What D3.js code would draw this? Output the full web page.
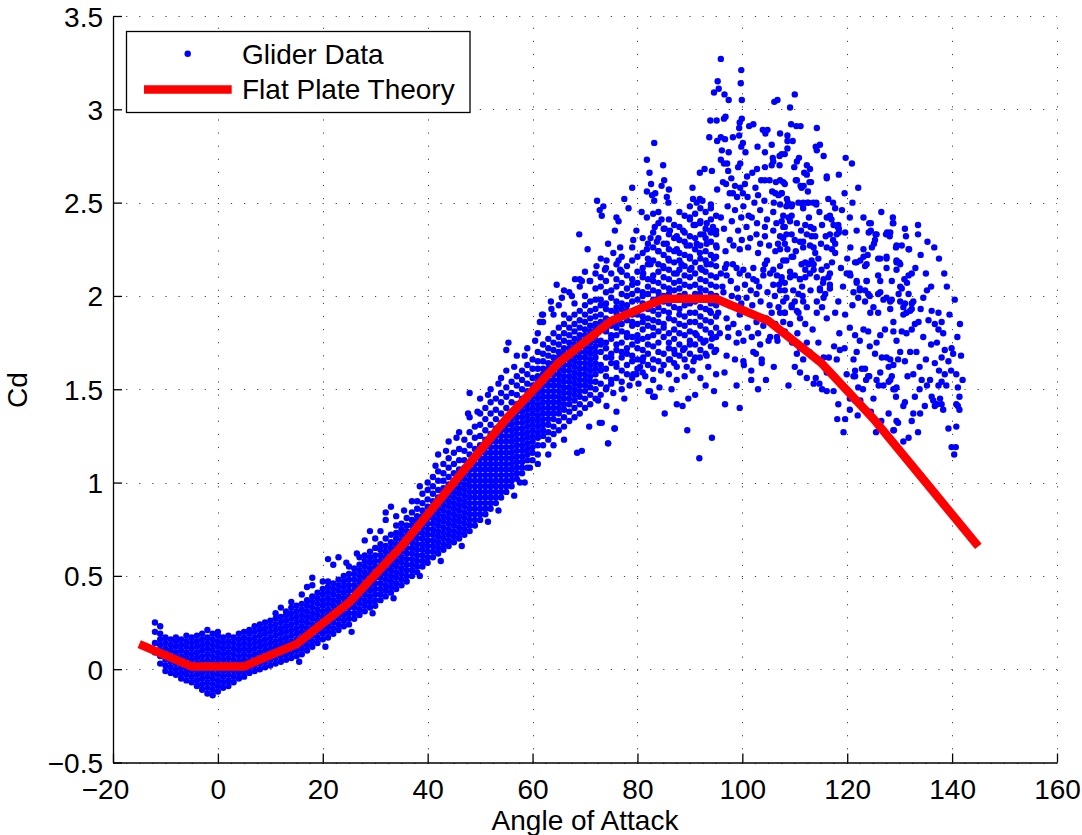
<!DOCTYPE html>
<html><head><meta charset="utf-8">
<script src="https://cdn.jsdelivr.net/npm/d3@7"></script>
<style>
body{margin:0;background:#fff}
svg{display:block}
text{font-family:"Liberation Sans",Arial,Helvetica,sans-serif;fill:#000}
</style></head>
<body><svg id="chart" width="1082" height="835"></svg>
<script>
// ---------- data ----------
const xTicks = [-20,0,20,40,60,80,100,120,140,160];
const xTickLabels = ["\u221220","0","20","40","60","80","100","120","140","160"];
const yTicks = [-0.5,0,0.5,1,1.5,2,2.5,3,3.5];
const yTickLabels = ["\u22120.5","0","0.5","1","1.5","2","2.5","3","3.5"];
const xLabel = "Angle of Attack";
const yLabel = "Cd";
const legendLabels = ["Glider Data","Flat Plate Theory"];

// Flat plate theory curve
const theoryAngle = [-15,-5,5,15,25,35,45,55,65,75,85,95,105,115,125,135,145];
const theoryCd = [0.134,0.015,0.015,0.134,0.357,0.658,1.0,1.342,1.643,1.866,1.985,1.985,1.866,1.643,1.342,1.0,0.658];

// Glider data, dense part: [angle, [Cd values at that angle]]
const coreColumns = [
[-12,[0.09,0.14,0.2,0.25]],
[-11,[0.03,0.07,0.1,0.13,0.16,0.19,0.23]],
[-10,[-0.01,0.02,0.05,0.08,0.11,0.14,0.17]],
[-9,[-0.02,0.01,0.04,0.07,0.1,0.13,0.16]],
[-8,[-0.03,0,0.03,0.06,0.09,0.12,0.15,0.17]],
[-7,[-0.05,-0.02,0.01,0.04,0.07,0.1,0.13,0.16]],
[-6,[-0.06,-0.03,0,0.03,0.06,0.09,0.12,0.15,0.18]],
[-5,[-0.07,-0.04,-0.01,0.02,0.05,0.08,0.11,0.14,0.17]],
[-4,[-0.09,-0.06,-0.03,0,0.03,0.06,0.09,0.12,0.15,0.18]],
[-3,[-0.11,-0.08,-0.05,-0.02,0.01,0.04,0.07,0.1,0.13,0.16,0.19]],
[-2,[-0.13,-0.1,-0.07,-0.04,-0.01,0.02,0.05,0.08,0.11,0.14,0.17,0.21]],
[-1,[-0.14,-0.11,-0.08,-0.05,-0.02,0.01,0.04,0.07,0.1,0.13,0.16,0.19]],
[0,[-0.12,-0.09,-0.06,-0.03,0,0.03,0.06,0.09,0.12,0.15,0.18,0.2]],
[1,[-0.1,-0.07,-0.04,-0.01,0.02,0.05,0.08,0.11,0.14,0.17]],
[2,[-0.09,-0.06,-0.03,0,0.03,0.06,0.09,0.12,0.15,0.18]],
[3,[-0.07,-0.04,-0.01,0.02,0.05,0.08,0.11,0.14,0.17]],
[4,[-0.05,-0.02,0.01,0.04,0.07,0.1,0.13,0.16,0.19]],
[5,[-0.04,-0.01,0.02,0.05,0.08,0.11,0.14,0.17,0.2]],
[6,[-0.02,0.01,0.04,0.07,0.1,0.13,0.16,0.19,0.21]],
[7,[-0.01,0.02,0.05,0.08,0.11,0.14,0.17,0.2,0.23]],
[8,[0,0.03,0.06,0.09,0.12,0.15,0.18,0.21,0.24]],
[9,[0.01,0.04,0.07,0.1,0.13,0.16,0.19,0.22,0.25]],
[10,[0.02,0.05,0.08,0.11,0.14,0.17,0.2,0.23,0.26]],
[11,[0.03,0.06,0.09,0.12,0.15,0.18,0.21,0.24,0.27,0.3]],
[12,[0.04,0.07,0.1,0.13,0.16,0.19,0.22,0.25,0.28,0.33]],
[13,[0.05,0.08,0.11,0.14,0.17,0.2,0.23,0.26,0.29,0.31]],
[14,[0.06,0.09,0.12,0.15,0.18,0.21,0.24,0.27,0.3,0.33,0.36]],
[15,[0.07,0.1,0.13,0.16,0.19,0.22,0.25,0.28,0.31,0.34]],
[16,[0.08,0.11,0.14,0.17,0.2,0.23,0.26,0.29,0.32,0.35,0.4]],
[17,[0.1,0.13,0.16,0.19,0.22,0.25,0.28,0.31,0.34,0.37,0.44]],
[18,[0.12,0.15,0.18,0.21,0.24,0.27,0.3,0.33,0.36,0.39,0.45,0.49]],
[19,[0.14,0.17,0.2,0.23,0.26,0.29,0.32,0.35,0.38,0.41]],
[20,[0.16,0.19,0.22,0.25,0.28,0.31,0.34,0.37,0.4,0.43,0.47]],
[21,[0.17,0.2,0.23,0.26,0.29,0.32,0.35,0.38,0.41,0.44,0.47,0.59]],
[22,[0.19,0.22,0.25,0.28,0.31,0.34,0.37,0.4,0.43,0.46,0.56]],
[23,[0.21,0.24,0.27,0.3,0.33,0.36,0.39,0.42,0.45,0.48,0.6]],
[24,[0.23,0.26,0.29,0.32,0.35,0.38,0.41,0.44,0.47,0.5]],
[25,[0.24,0.27,0.3,0.33,0.36,0.39,0.42,0.45,0.48,0.51,0.55]],
[26,[0.27,0.3,0.33,0.36,0.39,0.42,0.45,0.48,0.51,0.54]],
[27,[0.29,0.32,0.35,0.38,0.41,0.44,0.47,0.5,0.53,0.56,0.6]],
[28,[0.31,0.34,0.37,0.4,0.43,0.46,0.49,0.52,0.55,0.58,0.61,0.69]],
[29,[0.33,0.36,0.39,0.42,0.45,0.48,0.51,0.54,0.57,0.6,0.63,0.74]],
[30,[0.34,0.37,0.4,0.43,0.46,0.49,0.52,0.55,0.58,0.61,0.65,0.7]],
[31,[0.37,0.4,0.43,0.46,0.49,0.52,0.55,0.58,0.61,0.64,0.67]],
[32,[0.39,0.42,0.45,0.48,0.51,0.54,0.57,0.6,0.63,0.66,0.7,0.8,0.84]],
[33,[0.41,0.44,0.47,0.5,0.53,0.56,0.59,0.62,0.65,0.68,0.72,0.87]],
[34,[0.43,0.46,0.49,0.52,0.55,0.58,0.61,0.64,0.67,0.7,0.73,0.77,0.82]],
[35,[0.45,0.48,0.51,0.54,0.57,0.6,0.63,0.66,0.69,0.72,0.75,0.78]],
[36,[0.47,0.5,0.53,0.56,0.59,0.62,0.65,0.68,0.71,0.74,0.77,0.81]],
[37,[0.5,0.53,0.56,0.59,0.62,0.65,0.68,0.71,0.74,0.77,0.8,0.84,0.9]],
[38,[0.52,0.55,0.58,0.61,0.64,0.67,0.7,0.73,0.76,0.79,0.82,0.86,0.9]],
[39,[0.55,0.58,0.61,0.64,0.67,0.7,0.73,0.76,0.79,0.82,0.85,0.89,0.94]],
[40,[0.57,0.6,0.63,0.66,0.69,0.72,0.75,0.78,0.81,0.84,0.87,0.91,0.96,1.0]],
[41,[0.6,0.63,0.66,0.69,0.72,0.75,0.78,0.81,0.84,0.87,0.9,0.94,0.98,1.03]],
[42,[0.62,0.65,0.68,0.71,0.74,0.77,0.8,0.83,0.86,0.89,0.92,0.96,1.01,1.06,1.15]],
[43,[0.64,0.67,0.7,0.73,0.76,0.79,0.82,0.85,0.88,0.91,0.94,0.97,1.01,1.05,1.1]],
[44,[0.66,0.69,0.72,0.75,0.78,0.81,0.84,0.87,0.9,0.93,0.96,0.99,1.03,1.08,1.13,1.22]],
[45,[0.68,0.71,0.74,0.77,0.8,0.83,0.86,0.89,0.92,0.95,0.98,1.01,1.05,1.1,1.16]],
[46,[0.7,0.73,0.76,0.79,0.82,0.85,0.88,0.91,0.94,0.97,1.0,1.03,1.07,1.12,1.18,1.27]],
[47,[0.72,0.75,0.78,0.81,0.84,0.87,0.9,0.93,0.96,0.99,1.02,1.05,1.08,1.12,1.17,1.23]],
[48,[0.74,0.77,0.8,0.83,0.86,0.89,0.92,0.95,0.98,1.01,1.04,1.07,1.1,1.15,1.2,1.27,1.35]],
[49,[0.77,0.8,0.83,0.86,0.89,0.92,0.95,0.98,1.01,1.04,1.07,1.1,1.13,1.18,1.24,1.3]],
[50,[0.8,0.83,0.86,0.89,0.92,0.95,0.98,1.01,1.04,1.07,1.1,1.13,1.16,1.2,1.25,1.31,1.37,1.45]],
[51,[0.83,0.86,0.89,0.92,0.95,0.98,1.01,1.04,1.07,1.1,1.13,1.16,1.19,1.23,1.28,1.34,1.4]],
[52,[0.86,0.89,0.92,0.95,0.98,1.01,1.04,1.07,1.1,1.13,1.16,1.19,1.22,1.26,1.31,1.37,1.43,1.5]],
[53,[0.89,0.92,0.95,0.98,1.01,1.04,1.07,1.1,1.13,1.16,1.19,1.22,1.25,1.29,1.34,1.39,1.45]],
[54,[0.92,0.95,0.98,1.01,1.04,1.07,1.1,1.13,1.16,1.19,1.22,1.25,1.28,1.32,1.37,1.43,1.48,1.56]],
[55,[0.95,0.98,1.01,1.04,1.07,1.1,1.13,1.16,1.19,1.22,1.25,1.28,1.31,1.35,1.4,1.46,1.51,1.6]],
[56,[0.98,1.01,1.04,1.07,1.1,1.13,1.16,1.19,1.22,1.25,1.28,1.31,1.34,1.38,1.43,1.48,1.54]],
[57,[1.02,1.05,1.08,1.11,1.14,1.17,1.2,1.23,1.26,1.29,1.32,1.35,1.38,1.42,1.47,1.52,1.57,1.68]],
[58,[1.05,1.08,1.11,1.14,1.17,1.2,1.23,1.26,1.29,1.32,1.35,1.38,1.41,1.45,1.5,1.55,1.6]],
[59,[1.08,1.12,1.15,1.18,1.21,1.24,1.27,1.3,1.33,1.36,1.39,1.42,1.45,1.49,1.53,1.58,1.63,1.72]],
[60,[1.12,1.16,1.19,1.22,1.25,1.28,1.31,1.34,1.37,1.4,1.43,1.46,1.49,1.52,1.56,1.61,1.66]],
[61,[1.15,1.2,1.24,1.27,1.3,1.33,1.36,1.39,1.42,1.45,1.48,1.51,1.54,1.57,1.61,1.65,1.7,1.8]],
[62,[1.2,1.25,1.28,1.31,1.34,1.37,1.4,1.43,1.46,1.49,1.52,1.55,1.58,1.61,1.65,1.69,1.74,1.86]],
[63,[1.23,1.27,1.31,1.34,1.37,1.4,1.43,1.46,1.49,1.52,1.55,1.58,1.61,1.64,1.68,1.72,1.77]],
[64,[1.26,1.3,1.34,1.37,1.4,1.43,1.46,1.49,1.52,1.55,1.58,1.61,1.64,1.67,1.71,1.75,1.8,1.9]],
[65,[1.28,1.33,1.37,1.4,1.43,1.46,1.49,1.52,1.55,1.58,1.61,1.64,1.67,1.7,1.74,1.78,1.83,1.95]],
[66,[1.3,1.35,1.39,1.42,1.45,1.48,1.51,1.54,1.57,1.6,1.63,1.66,1.69,1.72,1.76,1.8,1.85,1.9]],
[67,[1.33,1.38,1.42,1.45,1.48,1.51,1.54,1.57,1.6,1.63,1.66,1.69,1.72,1.75,1.79,1.83,1.88,2.02]],
[68,[1.35,1.4,1.44,1.47,1.5,1.53,1.56,1.59,1.62,1.65,1.68,1.71,1.74,1.77,1.81,1.85,1.9,1.96]],
[69,[1.37,1.42,1.46,1.49,1.52,1.55,1.58,1.61,1.64,1.67,1.7,1.73,1.76,1.79,1.83,1.87,1.92,2.05]],
[70,[1.4,1.45,1.49,1.52,1.55,1.58,1.61,1.64,1.67,1.7,1.73,1.76,1.79,1.82,1.86,1.9,1.95,2.0]],
[71,[1.42,1.47,1.51,1.54,1.57,1.6,1.63,1.66,1.69,1.72,1.75,1.78,1.81,1.84,1.88,1.92,1.97,2.08]],
[72,[1.45,1.5,1.54,1.58,1.61,1.64,1.67,1.7,1.73,1.76,1.79,1.82,1.85,1.89,1.93,1.98,2.04]],
[73,[1.47,1.53,1.6,1.63,1.7,1.74,1.76,1.83,1.86,1.9,1.95,1.98,2.05,2.1]],
[74,[1.5,1.57,1.61,1.67,1.72,1.75,1.81,1.82,1.88,1.93,1.96,2.02,2.08,2.15]],
[75,[1.53,1.55,1.64,1.67,1.69,1.77,1.79,1.84,1.87,1.92,1.99,2.03,2.12]],
[76,[1.56,1.62,1.64,1.71,1.74,1.79,1.83,1.86,1.91,1.94,1.97,2.05,2.09,2.17]],
[77,[1.54,1.6,1.67,1.7,1.75,1.81,1.85,1.89,1.93,1.96,2.01,2.07,2.13,2.21]],
[78,[1.58,1.63,1.69,1.72,1.78,1.8,1.87,1.92,1.95,2.0,2.04,2.11,2.16]],
[79,[1.56,1.65,1.68,1.74,1.78,1.84,1.86,1.9,1.97,2.01,2.06,2.09,2.19,2.26]],
[80,[1.61,1.66,1.72,1.76,1.79,1.85,1.9,1.93,1.98,2.03,2.07,2.13,2.21]],
[81,[1.59,1.65,1.71,1.77,1.82,1.86,1.89,1.96,2.0,2.02,2.1,2.15,2.23,2.31]],
[82,[1.63,1.69,1.74,1.78,1.84,1.88,1.93,1.95,2.01,2.05,2.09,2.17,2.2,2.28]],
[83,[1.61,1.66,1.73,1.79,1.83,1.87,1.92,1.98,2.03,2.08,2.11,2.19,2.26,2.34]],
[84,[1.65,1.7,1.75,1.81,1.86,1.9,1.94,1.99,2.02,2.07,2.13,2.17,2.24,2.31,2.39]],
[85,[1.63,1.69,1.78,1.83,1.85,1.92,1.97,2.0,2.05,2.1,2.15,2.22,2.28,2.36]],
[86,[1.66,1.72,1.75,1.8,1.88,1.91,1.96,2.01,2.04,2.09,2.14,2.19,2.25,2.33,2.41]],
[87,[1.64,1.71,1.77,1.82,1.87,1.94,1.98,2.03,2.07,2.12,2.18,2.24,2.31,2.38]],
[88,[1.68,1.74,1.8,1.85,1.9,1.93,2.0,2.04,2.08,2.14,2.19,2.23,2.3,2.37,2.45]],
[89,[1.66,1.72,1.79,1.84,1.89,1.95,2.01,2.06,2.11,2.16,2.22,2.29,2.34,2.43]],
[90,[1.69,1.76,1.81,1.86,1.91,1.96,1.99,2.05,2.1,2.14,2.2,2.27,2.32,2.41,2.48]],
[91,[1.67,1.74,1.8,1.86,1.91,1.97,2.01,2.06,2.12,2.18,2.25,2.31,2.38,2.44]],
[92,[1.71,1.77,1.84,1.89,1.94,1.99,2.04,2.09,2.15,2.2,2.27,2.33,2.4,2.47]],
[93,[1.69,1.76,1.82,1.87,1.93,1.98,2.03,2.08,2.13,2.19,2.24,2.31,2.36,2.45]],
[94,[1.73,1.8,1.86,1.91,1.96,2.01,2.06,2.11,2.17,2.22,2.29,2.34,2.41,2.49]],
[95,[1.71,1.78,1.83,1.89,1.95,2.0,2.05,2.1,2.16,2.21,2.27,2.35,2.43]]
];

// Glider data, scattered part: [angle, Cd]
const scatterPoints = [
[95.9,3.27],[99.8,3.21],[99.7,3.14],[95.3,3.15],[95.5,3.11],[94.6,3.09],[96.6,3.08],[97.4,3.05],[99.9,3.05],[106.1,3.04],[106.7,3.05],[110,3.08],[109.1,3.01],
[93.9,2.94],[95.1,2.94],[96.5,2.95],[96.8,2.96],[99.5,2.93],[99.9,2.95],[99.4,2.9],[101.3,2.91],[102.1,2.92],[103.9,2.89],[104.8,2.89],[104.4,2.87],[109.3,2.92],[110.3,2.91],[111.1,2.91],[107.2,2.87],[108.6,2.86],[109.6,2.83],[108.6,2.83],[114.2,2.9],
[93.7,2.85],[95.2,2.83],[95.9,2.85],[96.7,2.84],[98.2,2.85],[83.2,2.82],[99.4,2.86],[100.1,2.82],[99.8,2.8],[102.9,2.8],[104.3,2.77],[105.6,2.81],[105.8,2.74],[105.9,2.72],[96.1,2.78],[97.4,2.77],[100.6,2.77],[107.1,2.75],[107.5,2.76],[108.1,2.76],[108.6,2.79],[110.8,2.74],[110.4,2.72],[114,2.8],[114.8,2.81],[114.2,2.78],[115.5,2.75],[119.7,2.74],[120.9,2.71],
[81.8,2.73],[82.3,2.66],[84.9,2.7],[95.9,2.73],[96.5,2.71],[97.1,2.71],[97.3,2.67],[99.2,2.69],[99.6,2.71],[91.9,2.66],[92.8,2.68],[94.2,2.67],[102.8,2.68],[104.3,2.69],[105.6,2.7],[107.1,2.7],[109.9,2.69],[101.9,2.66],[103.6,2.62],[104.3,2.62],[105.2,2.62],[106.4,2.61],[107.8,2.61],[112.3,2.7],[111.8,2.66],[110.2,2.62],[111.1,2.59],[112.8,2.61],[116.1,2.64],[118.4,2.65],[122.1,2.58],
[82.6,2.6],[84.6,2.59],[85.1,2.62],[86,2.57],[85.6,2.53],[81.8,2.56],[82.8,2.54],[83.2,2.51],[83.4,2.55],[85.9,2.5],[90.5,2.58],[90.6,2.52],[91.9,2.52],[91.3,2.5],[92.4,2.51],[96.3,2.61],[96.9,2.6],[97.6,2.55],[98.2,2.55],[98.6,2.59],[99.6,2.58],[100.5,2.6],[100.1,2.55],[99,2.53],[103,2.54],[105.7,2.56],[106.3,2.55],[106.9,2.54],[107.5,2.55],[108.5,2.52],[108.7,2.5],[109.5,2.49],[110.7,2.5],[111.5,2.49],[112.4,2.5],[114.1,2.5],[116.4,2.52],[117.3,2.5],[117.7,2.47],[116.7,2.43],[117,2.41],[118.4,2.36],[118,2.33],[118.3,2.38],[123.1,2.42],[124.2,2.39],[124.5,2.35],[125.4,2.33],[125.1,2.28],[127.6,2.34],[128.1,2.32],[128.7,2.39],[131.2,2.32],[131.7,2.25],[129.3,2.26],
[112.9,2.68],[112.3,2.65],[113.1,2.61],[116.1,2.63],[110.4,2.62],[111.3,2.58],[111.7,2.59],[112.5,2.56],[107.2,2.62],[108.1,2.6],[107.5,2.55],[107.2,2.49],[108.4,2.48],[109.4,2.48],[111.6,2.5],[112.6,2.5],[113.5,2.5],[114.1,2.49],[111.6,2.47],
[109.4,2.43],[107.8,2.43],[109.1,2.4],[107.8,2.37],[108.4,2.33],[107.2,2.32],[108.1,2.28],[107.2,2.25],
[112,2.38],[113,2.37],[113.6,2.36],[112.3,2.33],[113.2,2.32],[113.9,2.32],[111.6,2.29],[112.9,2.27],[113.6,2.26],[111.6,2.26],[113.9,2.23],[113.2,2.19],[112.6,2.17],[113.6,2.17],[112,2.18],[113.6,2.14],[112.9,2.12],[112,2.14],[114.2,2.1],
[116.1,2.42],[117.4,2.38],[118.2,2.37],[118.4,2.34],[116.7,2.33],[117.3,2.3],[117.7,2.28],[115.9,2.32],[116.1,2.26],[117.1,2.25],[117.7,2.23],[117.1,2.18],[116.1,2.16],[115.1,2.14],[116.7,2.12],[115.4,2.07],[116.7,2.06],[114.8,2.04],[115.8,2.01],
[119.6,2.34],[120.6,2.26],[121.5,2.18],[122.5,2.19],[123.1,2.25],[123.9,2.22],[123.7,2.17],[124.7,2.26],[124.1,2.34],[124.5,2.39],[125.6,2.33],[125.3,2.3],[126.3,2.2],[127.5,2.21],[127.5,2.15],[128.8,2.39],[128.2,2.34],[127.4,2.33],[129.4,2.27],[130.4,2.27],[131.8,2.25],[129.9,2.18],[129.4,2.19],[129.4,2.14],
[119.9,2.12],[120.6,2.11],[121.8,2.08],[122.4,2.03],[122.1,1.99],[123.7,2.08],[124,2.01],[123.4,1.97],[125,1.94],[124.4,1.91],[125.9,1.91],[126.3,2.02],[126.3,2.08],[127.5,1.99],[128.5,1.98],[128.2,1.93],[129.8,2.01],[130.4,2.04],[130.9,2.09],[131.7,2.11],[132.3,2.12],[131.4,2.07],[130.1,1.97],[130.7,1.94],[132,1.92],[132.3,1.96],[134.5,1.99],[135.2,2.03],[136.1,1.92],[137.4,1.91],
[108.4,2.19],[109.4,2.21],[107.2,2.16],[109.1,2.1],[110,2.11],[108.1,2.07],[107.2,2.03],[109.7,2.03],[111,2.09],[112,2.1],[111.4,2.05],[110.7,2.01],[108.4,1.99],[110,1.97],[111.6,1.97],[109.4,1.94],[110.7,1.91],[108.1,1.91],[112.3,1.94],[107.2,1.91],[115.5,2.09],[114.8,2.03],[115.5,1.99],[114.2,1.97],[115.2,1.94],[114.2,1.91],[116.1,1.88],[117.7,1.91],[116.7,2.04],[116.4,2.1],
[123.1,2.21],[125.9,2.2],[127.5,2.2],[129.4,2.18],[130.1,2.17],[121.8,2.18],[123.4,2.16],[120.5,2.12],[121.8,2.07],[123.7,2.08],[125.9,2.11],[128.5,2.08],[121.2,2.02],[122.4,2.04],[123.4,2.03],[124.3,2],[125.9,2.01],[126.9,1.98],[128.2,1.97],[130.1,2.05],[131.7,2.01],[131,1.96],[132.3,1.93],[132.6,1.97],[136.7,1.85],[138,1.86],[137.4,1.82],[138.3,1.8],[137.1,1.75],[138.6,1.71],[139.9,1.72],[140.2,1.69],[138,1.67],[139.3,1.65],[136.7,1.64],
[120.5,1.83],[121.5,1.79],[123.1,1.82],[124,1.81],[122.4,1.76],[124.3,1.73],[125.6,1.75],[121.8,1.7],[125.3,1.69],[126.6,1.67],[127.5,1.67],[128.2,1.66],[128.8,1.63],[129.7,1.66],[131,1.65],[130.1,1.7],[132,1.7],[132.9,1.85],[133.6,1.86],[132.3,1.82],[131.3,1.8],[129.4,1.76],[128.8,1.81],[130.4,1.81],[128.8,1.86],[130.7,1.9],[131.3,1.91],[127.2,1.82],[126.3,1.79],[123.4,1.61],[121.5,1.6],[121.2,1.57],[124,1.57],[126.3,1.59],[127.9,1.62],[128.5,1.57],[127.9,1.54],[129.4,1.51],[129.1,1.5],[131,1.43],[130.7,1.41],[127.9,1.37],[129.4,1.33],[129.7,1.32],[128.8,1.28],[130.7,1.22],[131.7,1.24],[132.6,1.37],[132.3,1.33],[133.9,1.37],[132.9,1.46],[134.2,1.55],[135.8,1.55],[135.2,1.52],[133.8,1.5],[132.6,1.58],[136.1,1.46],[136.4,1.44],[137.1,1.42],[137.7,1.45],[138,1.42],[138.3,1.39],[136.7,1.41],[134.8,1.41],[137.4,1.52],[138,1.54],[138.6,1.58],[138.9,1.52],[140.8,1.58],[141.1,1.51],[141.4,1.46],[141.1,1.41],[141.4,1.39],[140.8,1.42],[139.3,1.29],[140.8,1.3],[139.9,1.19],[140.7,1.19],[140.4,1.15],[120.5,1.45],[120.5,1.39],[121.5,1.44],
[74.1,1.41],[75.7,1.29],[74.4,1.21],[73.2,1.32],[75.4,1.48],[74.1,1.51],[77,1.5],[79.2,1.58],[80.2,1.53],[82.4,1.49],[83.3,1.46],[84.2,1.51],[85.2,1.37],[87.5,1.42],[88.6,1.41],[89.7,1.45],[89.5,1.28],[91.8,1.13],[94.2,1.24],[94.6,1.49],[96.7,1.42],[96.6,1.59],[98.9,1.52],[100.3,1.63],[101.7,1.6],[101.7,1.55],[103.7,1.64],[102.6,1.69],[105.3,1.78],[106.7,1.76],[110.4,1.69],[111,1.72],[112.3,1.75],[111.6,1.66],[114,1.56],[114.7,1.53],[116.1,1.59],[115.5,1.67],[116.5,1.67],[118,1.66],[118.6,1.71],[121.2,1.66],[119.9,1.58],[121.5,1.57],[122.8,1.61],[122.1,1.51],[123.6,1.55],[124.2,1.57],[125.6,1.55],[126.9,1.52],[128.2,1.55],[128.8,1.5],[129.3,1.46],[128.9,1.28],[119.6,1.34],[119.3,1.27],[118.1,1.34],[118.3,1.42],[117.4,1.49],[116.1,1.49],[115.2,1.5],[113.6,1.53],[112.3,1.56],[111,1.59],[110,1.62],
[96.7,2.15],[98.2,2.17],[98.9,2.15],[97,2.11],[99.5,2.12],[101.1,2.11],[102.1,2.09],[102.7,2.08],[104,2.14],[104.3,2.17],[105.3,2.12],[106.6,2.11],[107.5,2.08],[105.9,2.06],[108.1,2.03],[102.7,2.01],[100.8,1.99],[99.2,1.99],[98,2.0],[96.4,2.02],[94.7,1.99],[93.2,1.98],[91.9,2.01],[93.8,1.92],[95.4,1.91],[97,1.88],[98.3,1.85],[99.5,1.9],[101.1,1.91],[102.7,1.86],[104,1.84],[105.6,1.91],[106.9,1.94],[108.1,1.91],[109.4,1.95],[110.4,1.92],[111,1.88],[109.1,1.85],[108.1,1.81],[106.6,1.78],[105,1.76],[103.4,1.74],[101.8,1.78],[100.2,1.76],[98.9,1.75],[97.3,1.78],[95.7,1.8],[94.2,1.77],[92.6,1.75],[91.3,1.79],[90,1.74],[88.7,1.71],[87.1,1.69],[86.2,1.66],[87.5,1.62],[89.4,1.62],[90.7,1.65],[91.9,1.67],[93.2,1.68],[94.7,1.7],[97,1.68],[98.6,1.66],[100.2,1.65],[102.1,1.7],[103.7,1.66],
[98.6,2.46],[100.2,2.48],[101.8,2.42],[103.4,2.46],[104.7,2.41],[105.9,2.45],[107.5,2.4],[108.8,2.42],[110.4,2.39],[99.2,2.35],[100.8,2.37],[102.7,2.33],[104.3,2.32],[105.9,2.35],[107.8,2.31],[109.4,2.33],[111,2.29],[99.5,2.25],[101.1,2.26],[103,2.23],[104.7,2.19],[106.3,2.24],[107.8,2.19],[109.7,2.21],[111.3,2.17],[100.2,2.14],[102.1,2.15],[104,2.11],[105.9,2.14],[107.5,2.1],[109.1,2.13],[111,2.09],[97.6,2.3],[97,2.17],[95.9,2.42],[95.1,2.26],[93.9,2.35],[93.2,2.17],
[96.2,2.05],[97.8,2.08],[99,2.04],[100.5,2.06],[101.6,2.03],[103.2,2.05],[104.8,2.02],[106.2,2.0],[107,2.06],[97.5,1.95],[99.8,1.96],[101.9,1.95],[103.5,1.97],[105.2,1.95],[107.8,1.97],[96.8,2.24],[98.3,2.27],[99.9,2.3],[101.5,2.31],[103.4,2.28],[105.1,2.27],[106.8,2.28],[108.6,2.25],[110.2,2.24],[96.5,2.36],[98,2.4],[101.2,2.43],[102.8,2.39],[104.3,2.37],[106.5,2.39],[108.1,2.37],[97.2,2.48],[99.8,2.42],[102.3,2.5],[104.2,2.51],[106,2.5],[101,2.53],[97.9,2.63],[100.9,2.64],[102.5,2.58],[95.2,2.57],[94,2.47],[95,2.33],[94.6,2.2],[95.9,2.12],[97.3,1.83],[99.3,1.8],[101,1.83],[103,1.8],[104.6,1.88],[106.3,1.85],[107.8,1.86],[110.5,1.8],[112,1.85],[113.4,1.82],[112.8,1.7],[114.5,1.75],[109.5,1.75],[111.5,2.0],[113,2.03],[110,2.3],[111.2,2.35],[112.7,2.42],[114.7,2.45],[115.2,2.38],[115,2.28],[114.5,2.2],[119,2.46],[119.5,2.55],[120.5,2.42],[121.8,2.35],[120,2.2],[118.8,2.15],[119.2,2.05],[118.3,1.97],[119.6,1.9],[121,1.95],[118.5,1.8],[117.5,1.73],[119.5,1.72],
[73.5,2.48],[73.2,2.43],[76,2.42],[76.4,2.4],[75.7,2.35],[74.4,2.28],[76.7,2.26],[75.4,2.23],[74.1,2.19],[76.4,2.19],[73.8,2.14],[76.7,2.14],[79.2,2.3],[79.8,2.35],[80.8,2.45],[81.8,2.42],[83,2.44],[84,2.45],[84.6,2.41],[83.3,2.37],[85.2,2.36],[86.2,2.35],[82.5,2.31],[83.7,2.29],[85.6,2.28],[81.8,2.25],[84,2.24],[85.9,2.2],[82.5,2.17],[84.9,2.16],[81.1,2.12],[87.5,2.32],[88.7,2.35],[90,2.42],[90.7,2.38],[91.9,2.39],[93.2,2.39],[94.4,2.37],[92.6,2.33],[91.3,2.28],[89.4,2.27],[87.5,2.25],[90,2.21],[91.9,2.23],[93.2,2.28],[88.4,2.17],[90.3,2.15],[92.3,2.14],[87.5,2.12],
[133.5,2.33],[135.3,2.29],[136.6,2.26],[134,2.22],[137.5,2.2],[131,2.36],[133.5,2.38],[128.7,2.42],[126.5,2.45],[121,2.5],[139,2.05],[140.5,1.98],[138.5,2.12],[141.5,1.85],[141,1.78],[139.5,1.9],[133,2.15],[135,2.12],[136,2.05],[134,1.93],[135.5,1.87],[134.5,1.78],[136,1.74],[133.2,1.7],[135,1.66],[137.5,1.6],[139.8,1.6],[142,1.55],[141.7,1.68],[133.8,1.62],[131.5,1.57],[126,1.52],[125,1.45],[123,1.5],[122.5,1.44],[124.5,1.38],[126.5,1.33],[125.5,1.27],[122,1.36],[133.5,1.27],
[104.5,1.55],[106,1.62],[108.8,1.52],[103,1.5],[99.5,1.4],
[80.5,1.62],[81.5,1.57],[83,1.55],[84.5,1.6],[86,1.58],[87.5,1.55],[89,1.57],[90.5,1.6],[92,1.56],[93.5,1.62],[95,1.58],[77.5,1.45],[78.5,1.52],[76,1.38],[86.5,1.5],[91,1.47],[93,1.52],
[61.8,1.9],[63.5,1.97],[66,2.03],[67.5,2.0],[69,2.09],[70,2.13],[72,2.12],[72.3,2.51],[72.8,2.46],[68.9,2.33],[70.5,2.25],[73,2.2],[77.5,2.52],[79,2.58],[78.3,2.47],[57.6,1.0],[59.5,1.08],[61,1.1],[68.5,1.16],[69.4,1.17],[72.8,1.32],[74.4,1.21],[75.6,1.29],[64,1.2],[66,1.23],[70.8,1.3],[63,1.15],
[48,1.48],[47.7,1.37],[55.4,1.75],[55,1.71],[61.4,1.86],[62,1.9],[64.6,2.06],[68.1,2.09],[69.4,2.08],[70.9,2.08],[72.2,2.16],[65.6,1.99],[63.6,1.93],
[82.1,1.49],[83,1.46],[72.5,1.44],[79.8,1.58],[81.1,1.67],
[24.5,0.57],[26.5,0.62],[31,0.74],[35.5,0.85],[38.5,0.98],[41.5,1.09],[43.5,1.17],[45.5,1.24],[49.5,1.38],[51.5,1.47],[53.5,1.53],[56.5,1.62],[58.5,1.68],[60.5,1.76],
[38.5,0.5],[42.5,0.58],[46.5,0.66],[51.5,0.79],[53.5,0.85],[56.5,0.93],[58.5,1.0],[29.5,0.3],[33.5,0.38],[25.5,0.2],[20.5,0.12],[15.5,0.04]
];

// ---------- layout ----------
const plot = {left:113, right:1057, top:16, bottom:762.5};
const FONT = 28;

const svg = d3.select("#chart");
const x = d3.scaleLinear().domain([-20,160]).range([plot.left, plot.right]);
const y = d3.scaleLinear().domain([-0.5,3.5]).range([plot.bottom, plot.top]);

// grid (dotted)
const grid = svg.append("g").attr("stroke","#444").attr("stroke-width",1).attr("stroke-dasharray","1.2,11.9");
grid.selectAll("line.v").data(xTicks).join("line").attr("class","v")
  .attr("x1",d=>Math.round(x(d))+0.5).attr("x2",d=>Math.round(x(d))+0.5)
  .attr("y1",plot.bottom).attr("y2",plot.top);
grid.selectAll("line.h").data(yTicks).join("line").attr("class","h")
  .attr("x1",plot.left).attr("x2",plot.right)
  .attr("y1",d=>Math.round(y(d))+0.5).attr("y2",d=>Math.round(y(d))+0.5);

// scatter points
const points = [];
coreColumns.forEach(([a, cds]) => cds.forEach(c => points.push([a, c])));
scatterPoints.forEach(p => points.push(p));
svg.append("g").attr("fill","#0000ff")
  .selectAll("circle").data(points).join("circle")
  .attr("cx",d=>x(d[0])).attr("cy",d=>y(d[1])).attr("r",3.2);

// theory line
const theory = theoryAngle.map((a,i)=>[a, theoryCd[i]]);
svg.append("path").datum(theory)
  .attr("fill","none").attr("stroke","#ff0000").attr("stroke-width",8.5)
  .attr("stroke-linejoin","miter").attr("stroke-linecap","butt")
  .attr("d", d3.line().x(d=>x(d[0])).y(d=>y(d[1])));

// axes
const xAxis = d3.axisBottom(x).tickValues(xTicks)
  .tickFormat((d,i)=>xTickLabels[i]).tickSizeInner(-9).tickSizeOuter(0).tickPadding(0);
const gx = svg.append("g").attr("transform",`translate(0,${plot.bottom})`).call(xAxis);
gx.select(".domain").attr("stroke","#000").attr("stroke-width",1.3);
gx.selectAll(".tick line").attr("stroke","#000").attr("stroke-width",1.3);
gx.selectAll(".tick text").attr("font-size",FONT).attr("font-family",null)
  .attr("y",36.5).attr("dy",0)
  .attr("dx",(d,i)=> xTickLabels[i].startsWith("\u2212") ? -8 : 0);

const yAxis = d3.axisLeft(y).tickValues(yTicks)
  .tickFormat((d,i)=>yTickLabels[i]).tickSizeInner(-9).tickSizeOuter(0).tickPadding(10);
const gy = svg.append("g").attr("transform",`translate(${plot.left},0)`).call(yAxis);
gy.select(".domain").attr("stroke","#000").attr("stroke-width",1.3);
gy.selectAll(".tick line").attr("stroke","#000").attr("stroke-width",1.3);
gy.selectAll(".tick text").attr("font-size",FONT).attr("font-family",null)
  .attr("dy",0).attr("y",10);

// axis labels
svg.append("text").attr("x",(plot.left+plot.right)/2).attr("y",830)
  .attr("text-anchor","middle").attr("font-size",FONT).text(xLabel);
svg.append("text").attr("transform",`translate(27,390) rotate(-90)`)
  .attr("text-anchor","middle").attr("font-size",FONT).text(yLabel);

// legend
const lg = svg.append("g");
lg.append("rect").attr("x",126.5).attr("y",31.5).attr("width",343.5).attr("height",81)
  .attr("fill","#fff").attr("stroke","#000").attr("stroke-width",1.3);
lg.append("circle").attr("cx",187.7).attr("cy",53.7).attr("r",3.2).attr("fill","#0000ff");
lg.append("line").attr("x1",144).attr("x2",231.7).attr("y1",89.6).attr("y2",89.6)
  .attr("stroke","#ff0000").attr("stroke-width",8.5);
lg.append("text").attr("x",242).attr("y",63.5).attr("font-size",FONT).text(legendLabels[0]);
lg.append("text").attr("x",242).attr("y",99.3).attr("font-size",FONT).text(legendLabels[1]);
</script></body></html>
